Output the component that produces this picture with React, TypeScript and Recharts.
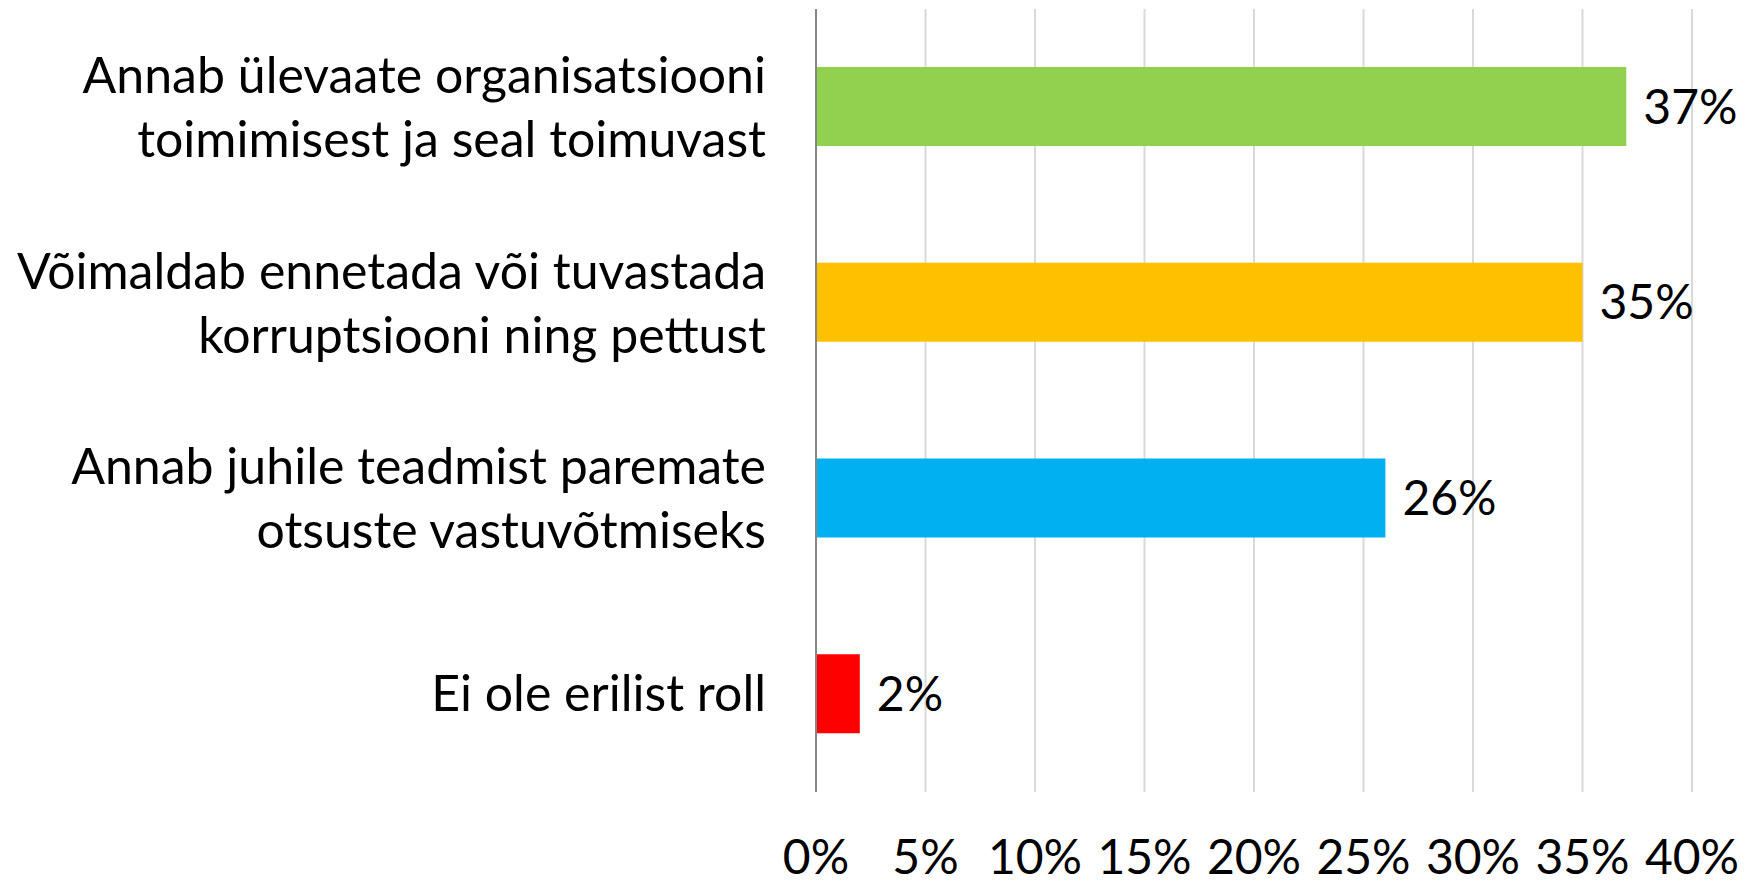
import { BarChart, Bar, XAxis, YAxis, CartesianGrid, Cell, LabelList } from "recharts";

/* ─── data ─── */
const categories = [
  "Annab ülevaate organisatsiooni\ntoimimisest ja seal toimuvast",
  "Võimaldab ennetada või tuvastada\nkorruptsiooni ning pettust",
  "Annab juhile teadmist paremate\notsuste vastuvõtmiseks",
  "Ei ole erilist roll",
];
const shares = [0.37, 0.35, 0.26, 0.02];
const barColors = ["#92D050", "#FFC000", "#00B0F0", "#FF0000"];
const xTicks = [0, 0.05, 0.1, 0.15, 0.2, 0.25, 0.3, 0.35, 0.4];

const data = categories.map((name, i) => ({ name, value: shares[i] }));

const FONT = "Lato, 'Open Sans', sans-serif";
const FS = 48;
const pct = (v: number) => `${Math.round(v * 100)}%`;

function CategoryTick(props: any) {
  const { x, y, payload } = props;
  const lines = String(payload.value).split("\n");
  const first = lines.length > 1 ? -14 : 17;
  return (
    <text x={x} y={y} textAnchor="end" fontSize={50} fill="#000" fontFamily={FONT}>
      {lines.map((l, i) => (
        <tspan key={i} x={x} dy={i === 0 ? first : 64}>{l}</tspan>
      ))}
    </text>
  );
}

function PctTick(props: any) {
  const { x, y, payload } = props;
  return (
    <text x={x} y={y + 82} textAnchor="middle" fontSize={FS} fill="#000" fontFamily={FONT}>
      {pct(payload.value)}
    </text>
  );
}

function ValueLabel(props: any) {
  const { x, y, width, height, value } = props;
  return (
    <text x={x + width + 17} y={y + height / 2 + 17} fontSize={FS} fill="#000" fontFamily={FONT}>
      {pct(value)}
    </text>
  );
}

export default function App() {
  return (
    <div style={{ position: "absolute", left: 0, top: 0, background: "#fff" }}>
      <BarChart width={1758} height={883} data={data} layout="vertical"
        margin={{ top: 9, right: 66, bottom: 0, left: 0 }}>
        <CartesianGrid horizontal={false} stroke="#D9D9D9" strokeWidth={2} />
        <XAxis type="number" domain={[0, 0.4]} ticks={xTicks} axisLine={false} tickLine={false}
          height={91} tickSize={0} tickMargin={0} tick={<PctTick />} interval={0} />
        <YAxis type="category" dataKey="name" width={816} axisLine={{ stroke: "#868686", strokeWidth: 2 }}
          tickLine={false} tickSize={0} tickMargin={50} tick={<CategoryTick />} interval={0} />
        <Bar dataKey="value" barSize={79} isAnimationActive={false}>
          {data.map((_, i) => <Cell key={i} fill={barColors[i]} />)}
          <LabelList dataKey="value" content={<ValueLabel />} />
        </Bar>
      </BarChart>
    </div>
  );
}
